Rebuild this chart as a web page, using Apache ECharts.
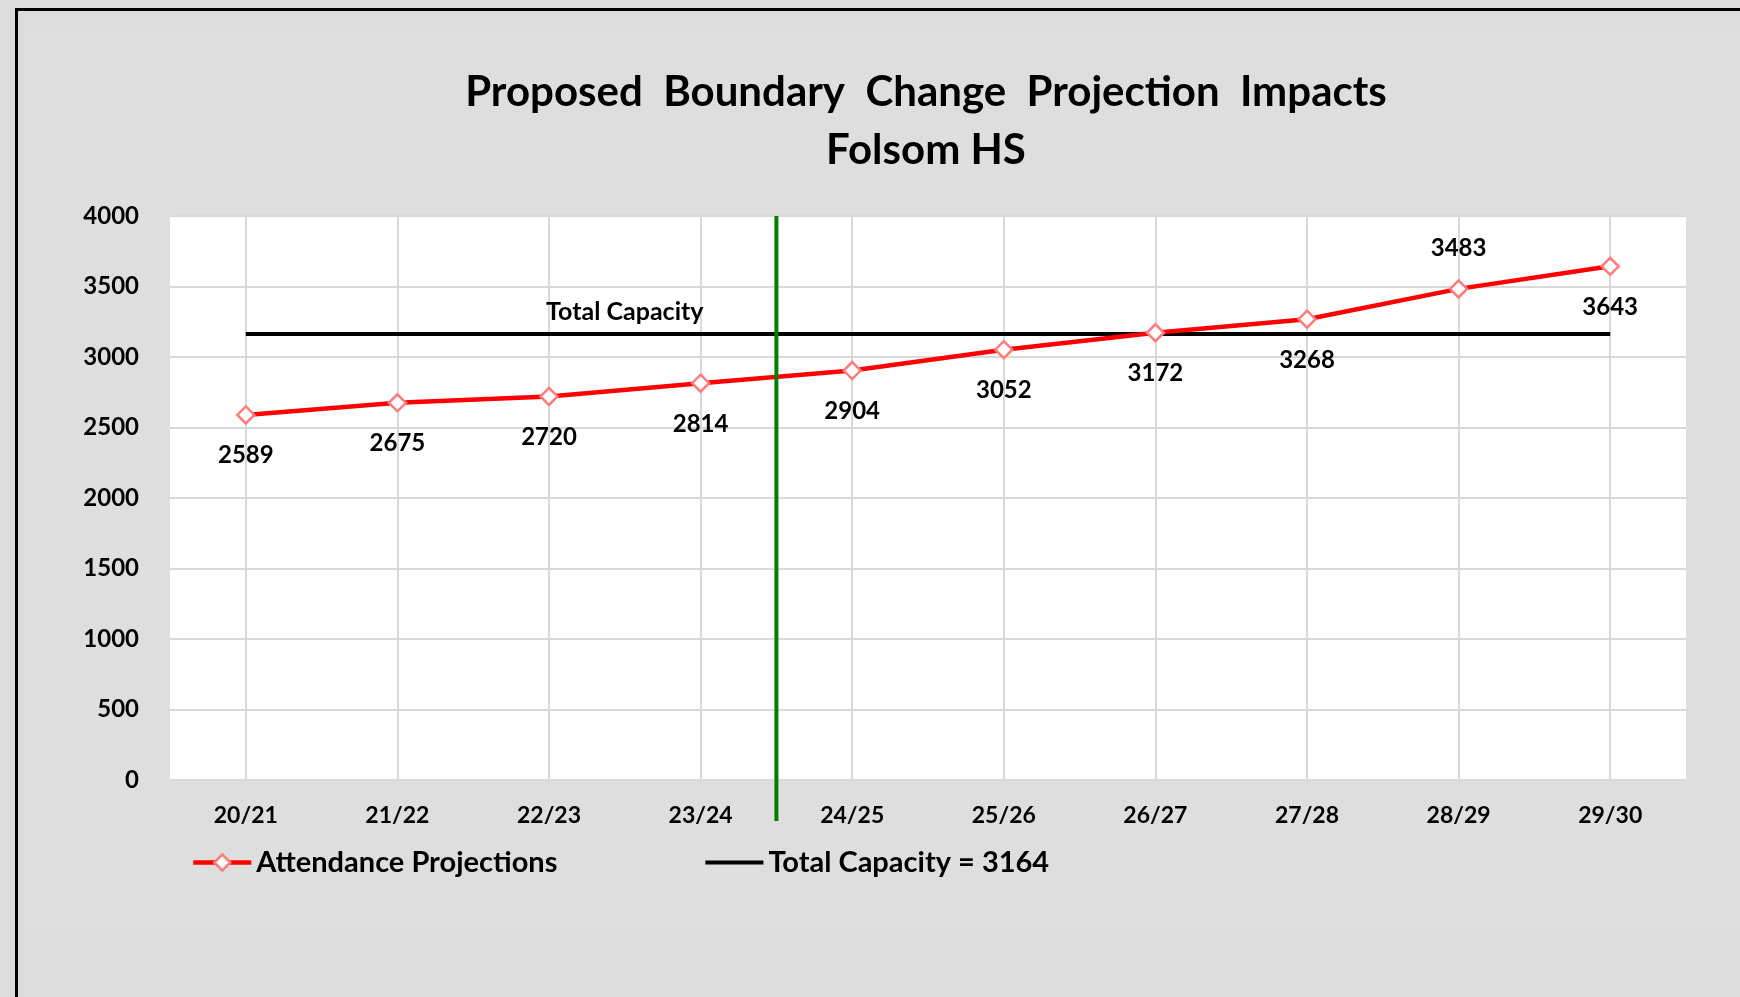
<!DOCTYPE html>
<html>
<head>
<meta charset="utf-8">
<script src="https://cdn.jsdelivr.net/npm/echarts@6/dist/echarts.min.js"></script>
<style>
  html, body { margin: 0; padding: 0; background: #dcdcdc; }
  #chart { width: 1740px; height: 997px; }
</style>
</head>
<body>
<div id="chart"></div>
<script>
var years = ['20/21', '21/22', '22/23', '23/24', '24/25', '25/26', '26/27', '27/28', '28/29', '29/30'];
var attendance = [2589, 2675, 2720, 2814, 2904, 3052, 3172, 3268, 3483, 3643];
var capacity = [3164, 3164, 3164, 3164, 3164, 3164, 3164, 3164, 3164, 3164];
var capacityValue = 3164;
// where each value label sits
var labelSide = ['bottom', 'bottom', 'bottom', 'bottom', 'bottom', 'bottom', 'bottom', 'bottom', 'top', 'bottom'];

var FONT = 'Lato, "Open Sans", sans-serif';

var chartDom = document.getElementById('chart');
var myChart = echarts.init(chartDom);

var option = {
  backgroundColor: '#dcdcdc',
  textStyle: { fontFamily: FONT },
  title: {
    text: 'Proposed  Boundary  Change  Projection  Impacts\nFolsom HS',
    left: 921,
    top: 58,
    textAlign: 'center',
    textStyle: { fontSize: 42, fontWeight: 'bold', color: '#000', lineHeight: 58, fontFamily: FONT }
  },
  grid: {
    left: 170, right: 54, top: 216, bottom: 217,
    show: true, backgroundColor: '#ffffff', borderWidth: 0
  },
  legend: {
    left: 186,
    top: 843,
    itemWidth: 58,
    itemHeight: 20,
    itemGap: 148,
    itemStyle: { borderWidth: 2.5 },
    textStyle: { fontSize: 29, fontWeight: 'bold', color: '#000', fontFamily: FONT },
    data: [
      { name: 'Attendance Projections', lineStyle: { width: 4.5 } },
      { name: 'Total Capacity = 3164', icon: 'path://M0,0L58,0L58,4L0,4Z', itemStyle: { color: '#000' } }
    ]
  },
  xAxis: {
    type: 'category',
    data: years,
    axisLine: { show: false },
    axisTick: { show: false },
    axisLabel: { margin: 24, fontSize: 23, fontWeight: 'bold', color: '#000', fontFamily: FONT },
    splitLine: { show: true, alignWithLabel: true, lineStyle: { color: '#d9d9d9', width: 2 } }
  },
  yAxis: {
    type: 'value',
    min: 0,
    max: 4000,
    interval: 500,
    axisLine: { show: false },
    axisTick: { show: false },
    axisLabel: {
      margin: 31, fontSize: 24, fontWeight: 'bold', color: '#000', fontFamily: FONT,
      formatter: function (v) { return String(v); }
    },
    splitLine: { lineStyle: { color: '#d9d9d9', width: 2 } }
  },
  series: [
    {
      name: 'Total Capacity = 3164',
      type: 'line',
      data: capacity,
      symbol: 'none',
      z: 2,
      lineStyle: { color: '#000', width: 4 },
      itemStyle: { color: '#000' }
    },
    {
      name: 'Attendance Projections',
      type: 'line',
      z: 3,
      data: attendance.map(function (v, i) {
        return { value: v, label: { position: labelSide[i] } };
      }),
      symbol: 'diamond',
      symbolSize: 17,
      lineStyle: { color: '#ff0000', width: 4.5 },
      itemStyle: { color: '#ffffff', borderColor: '#ff7a7a', borderWidth: 2.5 },
      label: {
        show: true,
        distance: 19,
        fontSize: 24,
        fontWeight: 'bold',
        color: '#000',
        fontFamily: FONT
      }
    }
  ]
};
myChart.setOption(option);

// extra marks placed through the chart's own scales
var p2 = myChart.convertToPixel({ gridIndex: 0 }, [2, capacityValue]);
var p3 = myChart.convertToPixel({ gridIndex: 0 }, [3, capacityValue]);
var p4 = myChart.convertToPixel({ gridIndex: 0 }, [4, capacityValue]);
var top4000 = myChart.convertToPixel({ gridIndex: 0 }, [0, 4000])[1];
var splitX = (p3[0] + p4[0]) / 2;

myChart.setOption({
  graphic: [
    {
      type: 'rect', z: -10, silent: true,
      shape: { x: 25, y: 30, width: 1760, height: 899 },
      style: { fill: '#dedede' }
    },
    {
      type: 'rect', z: 100, silent: true,
      shape: { x: 16.5, y: 9.5, width: 1800, height: 1100 },
      style: { fill: null, stroke: '#000', lineWidth: 3 }
    },
    {
      type: 'line', z: 50, silent: true,
      shape: { x1: splitX, y1: top4000, x2: splitX, y2: 821 },
      style: { stroke: '#008000', lineWidth: 4 }
    },
    {
      type: 'text', z: 50, silent: true,
      x: (p2[0] + p3[0]) / 2, y: p3[1] - 9,
      style: {
        text: 'Total Capacity',
        fontSize: 25, fontWeight: 'bold', fontFamily: FONT,
        fill: '#000', align: 'center', verticalAlign: 'bottom'
      }
    }
  ]
});
</script>
</body>
</html>
